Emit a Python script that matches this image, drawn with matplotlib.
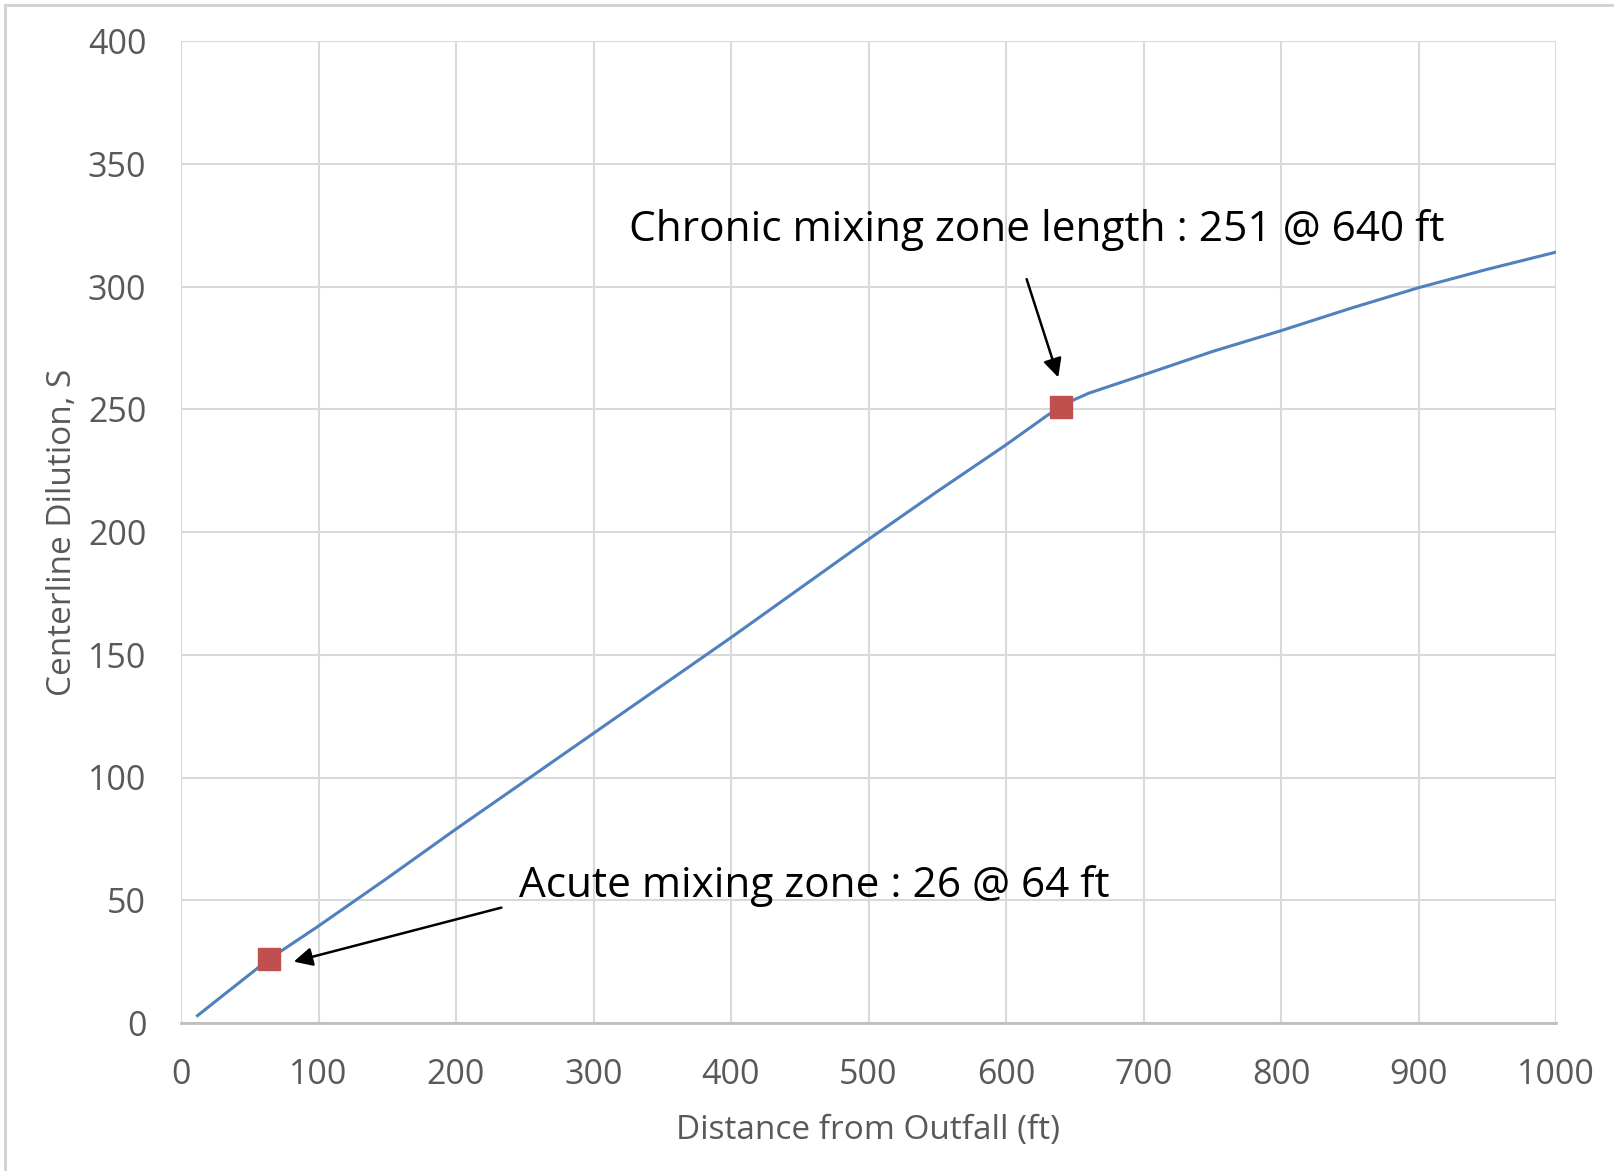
import matplotlib
matplotlib.use("Agg")
import matplotlib.pyplot as plt
from matplotlib.lines import Line2D

# ---- data ----
distance_ft = [12, 30, 64, 100, 150, 200, 250, 300, 350, 400, 450, 500, 550,
               600, 620, 630, 640, 650, 660, 700, 750, 800, 850, 900, 950, 1000]
dilution = [3, 11, 26, 39.5, 59, 79, 98.5, 118, 137.5, 157, 177, 197, 216.5,
            235.5, 243.5, 247.5, 251, 254, 256.5, 264, 273.5, 282, 291, 299.5, 307, 314]

mz_distance = [64, 640]
mz_dilution = [26, 251]
mz_labels = ["Acute mixing zone : 26 @ 64 ft",
             "Chronic mixing zone length : 251 @ 640 ft"]

x_ticks = [0, 100, 200, 300, 400, 500, 600, 700, 800, 900, 1000]
y_ticks = [0, 50, 100, 150, 200, 250, 300, 350, 400]

tick_color = "#595959"
grid_color = "#D9D9D9"
font = "Open Sans"

fig = plt.figure(figsize=(16.14, 11.71), dpi=100)
ax = fig.add_axes([181 / 1614, 1 - 1023 / 1171, (1556 - 181) / 1614, (1023 - 41) / 1171])

ax.plot(distance_ft, dilution, color="#4F81BD", lw=2.2, zorder=3)
ax.plot(mz_distance, mz_dilution, linestyle="none", marker="s", markersize=16,
        color="#C0504D", markeredgecolor="#C0504D", zorder=4)

ax.set_xlim(0, 1000)
ax.set_ylim(0, 400)
ax.set_xticks(x_ticks)
ax.set_yticks(y_ticks)
ax.set_xticklabels([str(v) for v in x_ticks], fontfamily=font, fontsize=24.5, color=tick_color)
ax.set_yticklabels([str(v) for v in y_ticks], fontfamily=font, fontsize=24.5, color=tick_color)
ax.tick_params(axis="both", length=0)
ax.tick_params(axis="x", pad=25)
ax.tick_params(axis="y", pad=25)
ax.grid(True, color=grid_color, lw=1.5, zorder=0)
for s in ["top", "right", "left"]:
    ax.spines[s].set_visible(False)
ax.spines["bottom"].set_color("#BFBFBF")
ax.spines["bottom"].set_linewidth(2)

ax.set_xlabel("Distance from Outfall (ft)", fontfamily=font, fontsize=24, color=tick_color,
              labelpad=16)
ax.set_ylabel("Centerline Dilution, S", fontfamily=font, fontsize=24, color=tick_color,
              labelpad=6)

arrow_kw = dict(arrowstyle="-|>", color="black", lw=1.8, mutation_scale=28,
                shrinkA=0, shrinkB=0)

# chronic
ax.text(326, 323, mz_labels[1], fontfamily=font, fontsize=30.5, color="black",
        va="center", ha="left")
ax.annotate("", xy=(mz_distance[1] - 2, mz_dilution[1] + 12), xytext=(615, 303),
            arrowprops=arrow_kw)
# acute
ax.text(246, 56, mz_labels[0], fontfamily=font, fontsize=30.5, color="black",
        va="center", ha="left")
ax.annotate("", xy=(mz_distance[0] + 18, mz_dilution[0] - 1), xytext=(233, 47),
            arrowprops=arrow_kw)

# figure frame (left and top)
fig.add_artist(Line2D([5 / 1614, 5 / 1614], [0, 1 - 5 / 1171], transform=fig.transFigure,
                      color="#D0D0D0", lw=2))
fig.add_artist(Line2D([5 / 1614, 1], [1 - 5 / 1171, 1 - 5 / 1171], transform=fig.transFigure,
                      color="#D0D0D0", lw=2))

fig.savefig("out.png", dpi=100)
